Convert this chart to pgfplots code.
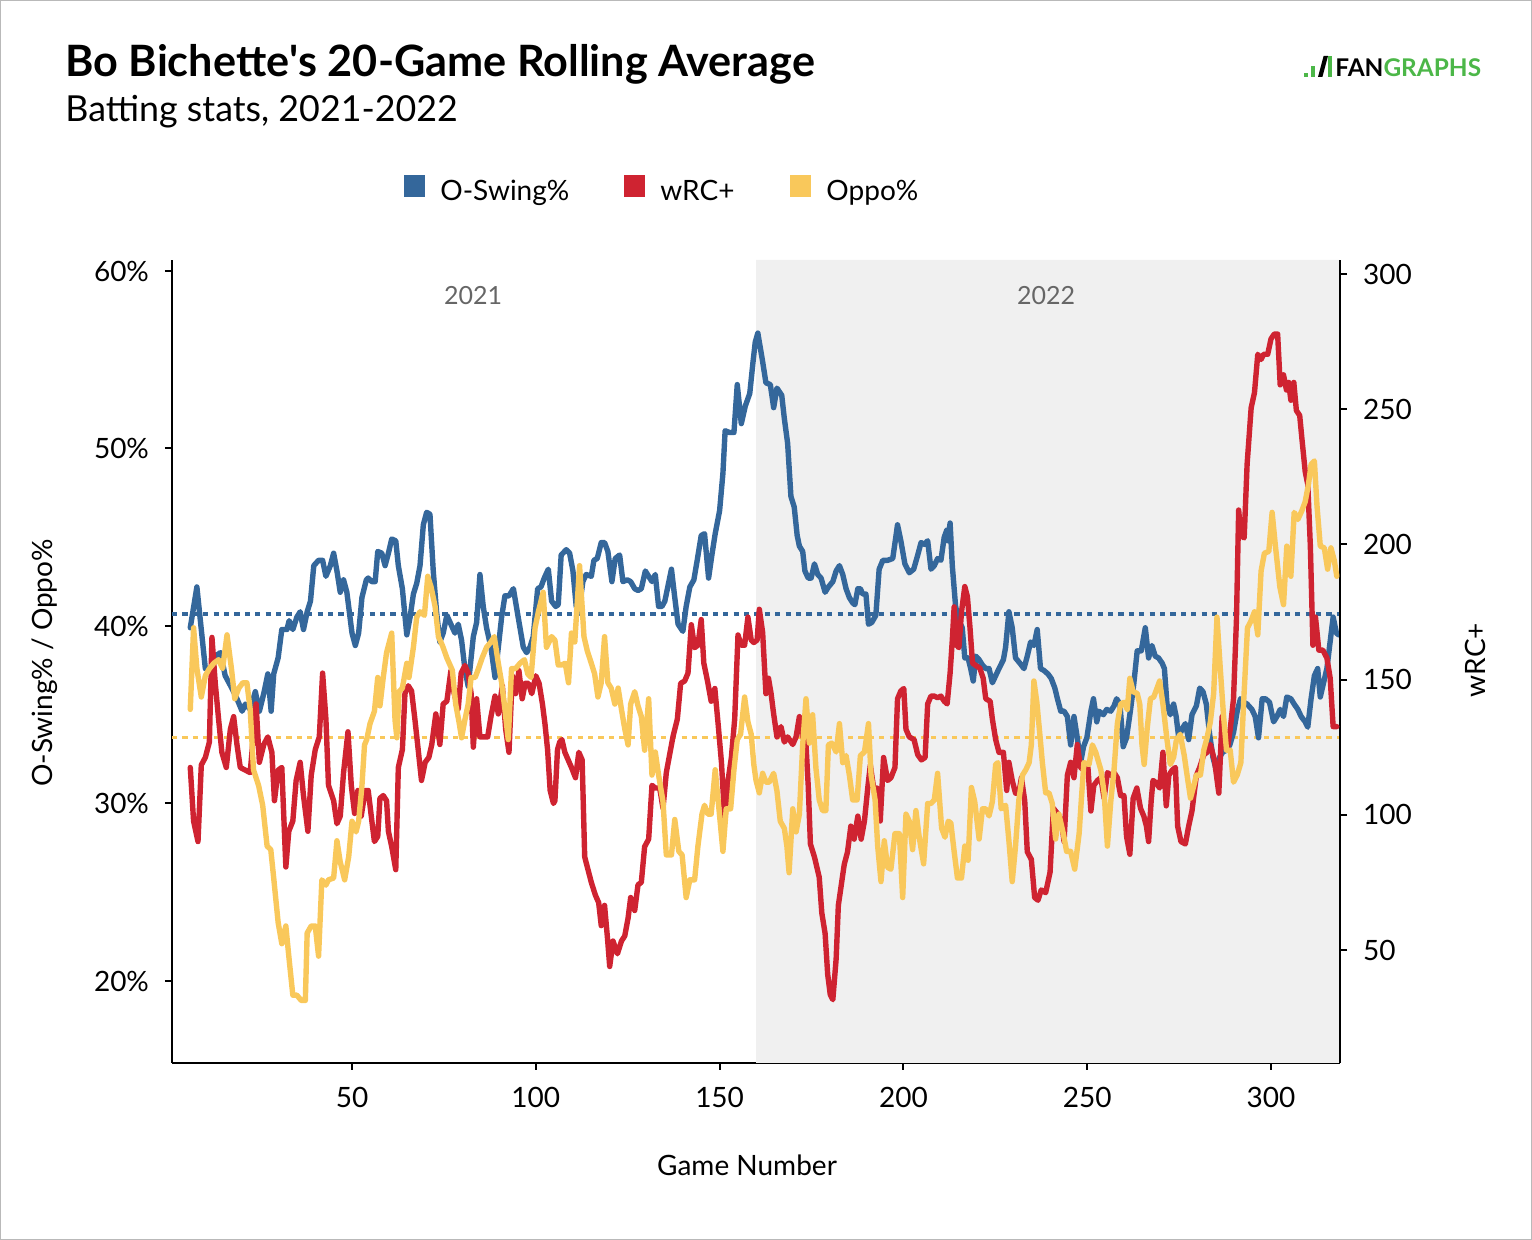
\documentclass[border=0pt]{standalone}
\usepackage{pgfplots}
\pgfplotsset{compat=1.18}
\usepackage{fontspec}
\setmainfont{Lato}
\definecolor{oblue}{HTML}{34679B}
\definecolor{wred}{HTML}{CF2331}
\definecolor{oyel}{HTML}{F9C85B}
\definecolor{shade}{HTML}{F0F0F0}
\definecolor{fgreen}{HTML}{4CB748}
\definecolor{yeargray}{HTML}{666666}
\pgfplotsset{
  base/.style={scale only axis, width=584pt, height=401.5pt,
    xmin=1.03, xmax=318.77, at={(86pt,88.5pt)}, anchor=south west,
    axis line style={-, line width=1pt, black},
    tick align=outside, major tick length=3.5pt,
    tick style={line width=1pt, black},
    ticklabel style={font=\fontsize{14}{16}\selectfont},
    minor tick num=0},
  dat/.style={line width=2.7pt, line join=round, line cap=round}
}
\begin{document}
\begin{tikzpicture}
% left axis: shading, reference lines, O-Swing%
\begin{axis}[base, ymin=15.38, ymax=60.62,
  axis x line*=bottom, axis y line*=left,
  xtick={50,100,150,200,250,300}, xticklabels={50,100,150,200,250,300},
  xticklabel style={yshift=-5pt},
  ytick={20,30,40,50,60}, yticklabels={20\%,30\%,40\%,50\%,60\%},
  yticklabel style={xshift=-4.5pt}]
\addplot[fill=shade, draw=none] coordinates {(159.9,15.38) (318.77,15.38) (318.77,60.62) (159.9,60.62) (159.9,15.38)};
\addplot[oblue, line width=1.6pt, dash pattern=on 2.6pt off 2.6pt] coordinates {(1.03,40.68) (318.77,40.68)};
\addplot[oyel, line width=1.6pt, dash pattern=on 2.6pt off 2.6pt] coordinates {(1.03,33.7) (318.77,33.7)};
\addplot[oblue, dat] coordinates {
(6,39.9)(7.8,42.2)(10.1,37.6)(11.5,37.6)(12.8,38.3)(14.2,38.5)(15.5,37.2)(17.3,36.5)(18.7,35.9)(20.1,35.2)(21,35.6)(22.3,35.3)(23.7,36.3)(24.8,35.2)(26,36.2)(27.1,37.3)(28,35.2)(28.7,37.3)(29.9,38.2)(30.9,39.8)(32.3,39.8)(32.9,40.3)(33.9,39.8)(35,40.5)(35.9,40.8)(36.8,39.8)(37.8,40.8)(38.7,41.4)(39.6,43.4)(40.9,43.7)(42,43.7)(42.9,42.8)(44.1,43.4)(45,44.1)(45.9,43.1)(46.8,41.9)(47.7,42.6)(48.6,41.9)(50,39.6)(50.9,38.9)(51.8,39.6)(52.7,41.6)(53.9,42.6)
(54.4,42.7)(55.4,42.5)(56.3,42.5)(57,44.2)(58.1,44.1)(59,43.4)(59.9,44.1)(60.8,44.9)(61.9,44.8)(62.6,43.4)(63.7,42.1)(64.9,39.5)(65.8,40.5)(66.7,41.8)(67.6,42.4)(68.5,43.4)(69.4,45.7)(70.3,46.4)(71.2,46.3)(72.1,43.1)(73,40.8)(73.9,39.1)(74.8,39.6)(75.8,40.6)(76.9,40.1)(78,39.6)(78.9,40.1)(79.8,39.2)(80.7,37.6)(81.6,36.6)(82.4,38.2)(83,39.4)(83.9,40.2)(84.8,42.9)(85.7,41.1)(86.6,39.9)(87.8,38.8)(88.9,37.1)(89.8,38.8)(90.7,40.5)(91.6,41.7)(92.7,41.7)(93.9,42.1)(95.2,40.5)(96.6,38.8)(97.5,38.5)(98.4,38.8)(99.3,39.4)(100.5,42.1)(101.4,42.2)(102.3,42.7)(103.4,43.2)(104.3,41.4)(105.4,41.1)(106.1,41.2)
(106.9,44.0)(108.3,44.3)(109.2,44.1)(110.1,43.1)(111,41.1)(111.7,40.8)(112.8,42.5)(113.7,42.9)(115.1,42.8)(115.8,43.7)(116.7,43.8)(117.8,44.7)(118.7,44.7)(119.6,44.2)(120.7,42.5)(121.6,43.8)(122.8,44.0)(123.7,42.5)(124.9,42.6)(125.8,42.5)(126.9,42.1)(127.8,42.0)(128.7,42.1)(129.8,43.1)(130.7,42.8)(131.6,42.5)(132.5,42.9)(133.4,41.1)(134.3,41.1)(135.1,41.4)(135.9,42.2)(136.9,43.2)(137.8,41.6)(138.7,40.1)(140,39.7)(140.9,41.1)(141.9,42.2)(143,42.6)(143.9,43.7)(145,45.1)(145.9,45.2)(147,42.7)(147.9,44.0)(148.8,45.2)(150,46.5)(150.9,48.6)(151.5,51.0)(152.7,50.9)(153.9,50.9)(154.8,53.6)(155.9,51.4)(157,52.4)(158.2,53.1)(159.1,54.9)(159.7,56.0)(160.4,56.5)
(161.7,54.9)(162.6,53.7)(163.8,53.6)(164.7,52.3)(165.6,53.4)(166.9,53.0)(167.6,51.7)(168.5,50.3)(169.4,47.3)(170.3,46.7)(171.1,45.1)(171.7,44.5)(172.6,44.2)(173.2,43.1)(174.1,42.7)(174.9,42.7)(175.8,43.5)(176.7,42.9)(177.6,42.7)(178.7,41.9)(179.6,42.2)(180.8,42.5)(181.7,43.1)(182.6,43.4)(183.5,42.9)(184.4,42.1)(185.3,41.6)(186.2,41.3)(186.8,41.2)(187.6,42.1)(188.3,42.1)(188.9,41.8)(189.8,41.8)(190.5,40.1)(191.4,40.2)(192.5,40.6)(193.4,43.2)(194.4,43.7)(195.7,43.7)(197.1,43.8)(198.4,45.7)(199.3,44.8)(200.4,43.5)(201.6,43.0)(202.8,43.2)(203.9,44.0)(204.8,44.7)(205.7,44.6)(206.6,44.8)(207.5,43.2)(208.4,43.4)(209.3,43.8)(210.2,43.7)(211.1,45.0)(211.8,45.4)(212.1,44.8)(212.7,45.8)
(213.3,43.4)(214.2,41.1)(215.1,40.3)(216,39.9)(216.7,38.2)(217.6,38.2)(218.3,37.6)(219,36.9)(219.7,38.3)(220.6,38.1)(221.5,37.8)(222.4,37.6)(223.3,37.6)(224.2,36.8)(225.1,37.2)(226,37.6)(227.2,38.1)(227.8,38.8)(228.7,40.8)(229.6,39.9)(230.5,38.2)(231.7,37.9)(232.8,37.6)(233.7,38.3)(234.6,39.1)(235.5,38.9)(236.4,39.8)(237.3,37.6)(238.2,37.5)(239.3,37.3)(240.2,37.05)(241.2,36.5)(241.9,35.9)(242.8,35.2)(243.7,35.2)(244.6,34.9)(245.5,33.3)(246.4,34.9)(247.3,33.7)(248.2,32.3)(249,33.2)(249.9,33.7)(251,35.2)(251.7,35.9)(252.6,34.6)(253.2,35.2)(254.4,35.0)(255.3,35.3)(256.4,35.2)(257.3,35.5)(258,35.9)(258.9,35.6)(259.8,33.2)(260.7,33.7)(261.8,35.3)(262.7,36.8)(263.6,38.6)(264.7,38.6)
(265.8,39.9)(266.7,38.2)(267.6,38.9)(268.5,38.3)(269.4,38.2)(270.4,37.9)(271,37.6)(271.7,35.6)(272.6,35.0)(273.5,35.6)(274.2,34.9)(274.9,33.7)(275.8,34.2)(276.7,34.5)(277.6,33.6)(278.5,35.0)(279.7,35.5)(280.6,36.5)(281.5,36.3)(282.4,35.6)(283.3,33.9)(284.2,32.6)(285.1,31.9)(286,32.6)(286.9,32.9)(287.9,33.0)(288.8,33.3)(289.8,34.0)(290.8,35.2)(291.7,35.9)(292.6,35.7)(293.5,35.6)(294.8,35.3)(295.7,34.9)(296.6,33.7)(297.6,35.9)(298.5,35.9)(299.6,35.7)(300.7,34.6)(301.6,34.9)(302.5,35.3)(303.4,34.9)(304.3,36.0)(305.4,35.9)(306.3,35.6)(307.3,35.3)(308.2,34.9)(309.3,34.6)(310,34.3)(310.9,35.9)(311.8,37.2)(312.7,37.6)(313.4,36.0)(314.3,36.8)(315.2,37.6)(315.9,38.8)(316.9,40.5)(317.8,39.6)(318.4,39.5)
};
\end{axis}
% right axis: wRC+
\begin{axis}[base, ymin=8.21, ymax=305.18,
  axis x line=none, axis y line*=right,
  ytick={50,100,150,200,250,300}, yticklabels={50,100,150,200,250,300},
  yticklabel style={xshift=4.5pt}]
\addplot[wred, dat] coordinates {
(6,117.5)(6.9,97.7)(8.1,90.1)(9,118.4)(10.1,121.2)(11.2,126.9)(11.9,165.6)(12.8,148.6)(13.7,135.4)(14.6,123.1)(15.8,117.5)(16.9,131.6)(17.8,136.3)(18.7,126.0)(19.6,117.5)(21,116.5)(22.3,115.6)(23.2,129.7)(23.9,141.0)(24.8,119.4)(26,126.0)(27.1,128.8)(28.2,123.1)(28.9,105.2)(29.9,116.5)(30.9,117.5)(32,80.7)(32.8,93.9)(33.9,97.7)(34.8,112.7)(35.9,119.4)(36.8,107.1)(38,93.9)(38.9,114.6)(40,124.1)(41.1,128.8)(42,152.4)(42.9,135.4)(43.6,110.9)(45,105.2)(45.9,96.7)(46.8,99.5)(47.7,115.6)(48.9,130.7)(49.8,110.9)(50.7,100.5)(51.6,109.0)(52.5,99.5)(53.6,109.0)
(54.4,109.0)(55.4,97.7)(56.1,90.1)(57,92.0)(57.6,106.1)(58.5,107.1)(59.4,105.2)(59.9,93.9)(60.8,88.2)(61.9,79.7)(62.6,117.5)(63.7,124.1)(64.4,144.8)(65.3,147.7)(66.2,145.8)(67.1,135.4)(68,124.1)(68.9,112.7)(69.9,119.4)(70.9,121.2)(71.7,126.0)(72.8,137.3)(73.9,126.0)(74.8,141.0)(75.8,142.0)(76.9,153.3)(77.8,144.8)(78.9,139.2)(79.7,152.4)(80.7,155.2)(81.6,152.4)(82.4,144.8)(83,125.0)(83.9,142.9)(84.8,128.8)(85.7,128.8)(86.9,128.8)(87.8,136.3)(88.9,143.9)(89.8,137.3)(90.9,147.7)(91.8,131.6)(92.7,123.1)(93.6,151.4)(94.5,144.8)(95.4,153.3)(96.3,142.9)(97.1,148.6)(98,148.6)(98.9,144.8)(100,151.4)(100.9,148.6)(101.8,141.0)(102.5,133.5)(103.2,124.1)(103.9,109.0)(104.8,104.2)(105.2,105.2)(105.9,124.1)
(106.5,126.9)(107.1,127.8)(107.9,123.1)(108.8,120.3)(109.7,117.5)(110.8,113.7)(111.7,123.1)(112.6,120.3)(113.3,84.4)(114.2,79.7)(115.1,75.0)(116.2,70.3)(117.1,67.5)(117.8,59.0)(118.7,66.5)(119.5,54.3)(120.1,43.9)(121,53.3)(122.2,48.6)(123.3,53.3)(124.2,55.2)(125.1,61.8)(125.8,69.4)(126.9,64.6)(127.8,74.1)(128.7,75.0)(129.6,88.2)(130.7,91.0)(131.6,110.9)(132.5,109.9)(133.7,109.9)(134.6,102.4)(135.5,115.6)(136.4,122.2)(137.3,128.8)(138.5,135.4)(139.4,148.6)(140.5,149.5)(141.4,152.4)(142.3,170.3)(143.2,161.8)(144.1,162.7)(145,172.2)(145.7,156.1)(146.7,149.5)(147.7,142.0)(148.7,146.7)(149.6,133.5)(150.5,119.4)(151.4,97.7)(152.3,112.7)(153.2,121.2)(154.1,135.4)(155,166.5)(155.9,162.7)(156.8,162.7)(157.7,173.1)(158.6,164.6)
(159.3,163.7)(160.2,164.6)(160.8,176.0)(161.7,167.5)(162.6,144.8)(163.3,150.5)(164,144.8)(164.7,137.3)(165.6,128.8)(166.7,132.6)(167.6,126.9)(168.5,128.8)(169.9,126.0)(170.8,128.8)(171.7,136.3)(172.6,128.8)(173.5,126.0)(174.1,110.9)(174.7,89.2)(175.8,84.4)(177.1,76.9)(177.8,63.7)(178.7,56.1)(179.4,41.0)(180.1,33.5)(180.8,31.6)(181.7,46.7)(182.3,66.5)(183.2,75.0)(183.9,81.6)(184.8,86.3)(185.7,95.8)(186.6,91.0)(187.6,99.5)(188.5,91.0)(189.4,97.7)(190.3,109.9)(191,118.4)(191.9,109.9)(192.8,109.9)(193.7,97.7)(194.6,121.2)(195.7,112.7)(196.6,113.7)(197.7,117.5)(198.4,142.9)(199.3,145.8)(200.1,146.7)(200.7,131.6)(201.6,128.8)(202.9,127.8)(203.9,122.2)(204.9,120.3)(205.9,121.2)(206.6,141.0)(207.5,143.9)(208.4,143.9)(209.3,143.3)(210.2,143.9)(211.1,142.0)
(211.9,141.0)(212.7,152.4)(213.3,164.6)(213.8,176.9)(214.5,162.7)(215.1,161.8)(215.8,175.0)(216.7,184.4)(217.4,180.7)(218.1,169.4)(218.8,156.1)(219.7,155.2)(220.8,154.2)(221.7,150.5)(222.4,142.9)(223.6,142.0)(224.2,135.4)(225.1,127.8)(226,123.1)(227.2,123.1)(228.1,109.0)(228.7,119.4)(229.6,112.7)(230.5,108.0)(231.4,108.0)(232.1,113.7)(233,105.2)(233.7,86.3)(234.8,83.5)(235.7,69.4)(236.6,68.4)(237.5,72.2)(238.7,71.2)(239.9,78.8)(240.8,102.4)(241.9,100.5)(243,97.7)(243.7,90.1)(244.6,114.6)(245.5,119.4)(246.4,113.7)(247.3,126.0)(248.2,117.5)(249.1,116.5)(250.2,117.5)(251,101.4)(251.8,110.9)(252.8,112.7)(253.7,113.7)(254.6,106.1)(255.5,115.6)(256.4,114.6)(257.3,115.6)(258.2,113.7)(259.1,107.1)(260,107.1)(260.7,92.0)(261.6,85.4)(262.5,106.1)(263.5,109.9)(264.5,102.4)(265.4,99.5)
(266.1,95.8)(266.7,90.1)(267.4,105.2)(267.9,112.7)(268.8,111.8)(269.7,109.9)(270.6,123.1)(271.5,103.3)(272.2,114.6)(273.1,116.5)(274,117.5)(274.6,95.8)(275.5,90.1)(276.7,89.2)(277.6,95.8)(278.5,101.4)(279.7,114.6)(280.6,117.5)(281.7,122.2)(282.6,123.1)(283.5,126.0)(284.6,120.3)(285.8,108.0)(286.7,136.3)(287.3,125.0)(288.2,125.0)(288.9,131.6)(289.8,142.9)(290.6,172.2)(291.2,212.7)(291.8,203.3)(292.7,202.4)(293.5,229.7)(294.6,250.5)(295.5,256.1)(296.4,270.3)(297.3,268.4)(298,270.3)(299.1,270.3)(300,276.0)(300.9,277.8)(301.8,277.8)(302.5,259.0)(303.4,262.7)(304.2,257.1)(304.8,259.9)(305.4,253.3)(306.2,259.9)(306.9,249.5)(307.8,247.7)(308.4,239.2)(309.3,226.9)(310,222.2)(310.7,199.5)(311.4,162.7)(312.1,173.1)(313,160.9)(314.1,160.9)(315.2,158.0)(316.1,150.5)(316.9,132.6)(317.9,132.6)
};
\end{axis}
% Oppo% on left scale, drawn on top
\begin{axis}[base, ymin=15.38, ymax=60.62, hide axis]
\addplot[oyel, dat] coordinates {
(6,35.3)(6.9,39.9)(7.8,37.6)(9,36.0)(10.1,37.2)(11.2,37.6)(12.4,37.9)(13.7,38.1)(14.8,37.6)(16,39.5)(17.2,37.6)(18.1,35.9)(19.2,36.5)(20.3,36.8)(21.4,36.8)(22.3,35.3)(23.2,31.9)(24.6,31.0)(25.7,29.9)(26.9,27.6)(27.9,27.4)(28.7,25.8)(29.9,23.3)(30.9,22.1)(32,23.1)(32.9,21.2)(33.9,19.2)(35,19.2)(36.2,18.9)(37.3,18.9)(37.8,22.7)(38.9,23.1)(40,23.1)(40.9,21.4)(41.8,25.7)(42.9,25.4)(43.6,25.7)(45,25.8)(45.9,27.9)(46.8,26.7)(48,25.7)(49.1,27.0)(50,29.0)(51.1,28.4)(51.8,29.0)(52.7,31.0)(53.4,33.3)
(54,33.6)(54.9,34.5)(56.1,35.2)(57,37.1)(57.6,35.5)(58.5,37.1)(59.4,38.5)(60.8,39.6)(61.7,34.7)(62.2,33.7)(62.8,36.3)(63.7,36.5)(64.9,37.9)(65.5,37.1)(66.7,38.8)(67.6,40.5)(68.5,40.8)(69.7,40.6)(70.6,42.8)(71.5,42.2)(72.6,41.1)(73.5,39.4)(74.6,38.9)(75.8,38.2)(77.3,37.5)(78.2,35.6)(79.1,34.6)(79.8,33.7)(80.7,34.7)(81.6,35.6)(82.4,37.1)(83.5,37.1)(84.4,37.6)(85.4,38.2)(86.6,38.8)(87.8,39.1)(88.7,39.4)(89.8,37.9)(90.7,36.8)(91.6,35.3)(92.5,33.6)(93.4,37.6)(94.5,37.6)(95.7,37.9)(96.9,38.1)(97.8,37.3)(98.7,37.1)(99.8,39.9)(100.7,40.8)(102,41.9)(102.9,38.8)(104.3,39.4)(105.2,39.2)(106.1,37.8)
(106.9,37.8)(108,37.9)(108.9,36.8)(109.7,39.6)(110.6,39.1)(111.9,43.4)(112.6,41.1)(113.1,39.4)(114,38.6)(115.1,37.9)(116,37.3)(116.9,36.0)(117.8,36.8)(118.7,39.4)(119.6,36.8)(120.5,36.5)(121.5,35.6)(122.4,36.5)(123.3,35.3)(124.2,34.2)(125.1,33.3)(125.8,35.6)(126.9,36.3)(127.8,35.5)(128.7,34.9)(129.6,33.0)(130.7,35.9)(131.6,31.6)(132.5,32.9)(133.4,31.6)(134.6,30.1)(135.5,27.1)(136.9,27.1)(137.8,29.1)(138.9,27.3)(139.8,27.1)(140.9,24.7)(141.9,25.7)(143.2,25.7)(144.1,27.6)(145.2,29.4)(145.9,29.9)(146.8,29.4)(147.7,29.4)(148.8,31.9)(150,29.3)(150.9,27.3)(151.8,29.7)(153,29.7)(153.9,31.9)(154.8,33.6)(155.7,33.9)(156.8,36.0)(157.7,34.6)(158.6,33.9)
(159.3,32.2)(159.9,31.3)(160.8,30.6)(161.7,31.7)(162.6,31.2)(163.5,31.2)(164.7,31.7)(165.6,30.7)(166.5,29.0)(167.6,28.6)(168.3,27.6)(168.9,26.1)(169.9,29.7)(170.8,28.4)(171.7,29.4)(172.6,33.3)(173.5,35.9)(174.4,33.4)(175.3,35.0)(176.2,32.0)(177.1,30.2)(178,29.6)(178.9,29.6)(179.6,33.3)(180.5,33.4)(181.7,32.9)(182.6,34.5)(183.5,32.3)(184.4,32.7)(185.3,31.6)(186.2,30.2)(187.4,30.2)(188.3,32.7)(189.4,32.9)(190.5,34.5)(191.2,31.6)(192.3,30.2)(193,27.6)(193.9,25.6)(194.8,27.9)(195.7,26.4)(196.6,26.3)(197.7,28.3)(198.9,28.3)(199.8,24.7)(200.7,29.4)(201.6,29.0)(202.5,27.4)(203.4,29.6)(204.3,28.1)(205.5,26.6)(206.6,30.0)(207.5,30.0)(208.4,30.2)(209.3,31.7)(210.4,28.6)(211.3,28.1)(212.2,29.0)(212.9,28.9)
(213.8,27.3)(214.7,25.8)(215.8,25.8)(216.7,27.6)(217.6,26.8)(218.5,30.9)(219.4,30.1)(220.6,28.0)(221.5,29.7)(222.4,29.7)(223.3,29.3)(224.2,30.1)(225.1,32.2)(225.7,32.3)(226.6,29.7)(227.8,29.9)(228.7,27.9)(229.6,25.6)(230.5,27.6)(231.4,30.2)(232.4,31.6)(233.3,31.9)(234.2,32.3)(234.8,33.3)(235.5,36.9)(236.3,35.7)(237.2,33.7)(237.8,32.3)(238.7,30.6)(239.6,30.6)(240.5,30.0)(241.4,28.0)(242.3,29.4)(243.5,28.3)(244.4,27.3)(245.5,27.3)(246.6,26.3)(247.8,28.3)(248.4,30.2)(249.1,32.3)(250.5,32.2)(251.4,33.3)(252.3,32.9)(253.7,31.9)(254.6,30.6)(255.5,27.6)(256.4,30.1)(257.3,31.9)(258.2,34.5)(259.1,35.6)(260,35.7)(260.9,35.3)(261.6,37.05)(262.5,36.3)(263.6,36.2)
(264.3,35.6)(264.9,33.3)(265.5,32.2)(266.3,34.2)(267.2,35.9)(268.1,36.0)(269,36.5)(269.7,36.9)(270.6,35.6)(271.7,33.6)(272.6,32.2)(273.5,32.6)(274.2,33.5)(275.3,33.9)(276.4,32.7)(277.3,31.4)(278.1,30.3)(279,31.0)(279.7,31.6)(280.8,31.6)(281.7,33.0)(282.6,33.7)(283.5,34.6)(284.4,36.2)(285.3,40.5)(286.2,37.6)(287.1,34.9)(287.9,33.0)(288.9,33.0)(289.8,31.2)(290.8,31.6)(291.8,32.3)(292.6,35.9)(293.6,39.9)(294.6,40.3)(295.5,40.8)(296.4,39.5)(297.3,43.1)(298.2,44.1)(299.4,44.2)(300.3,46.4)(301.2,44.5)(302.4,42.2)(303.4,41.2)(304.3,44.5)(305.4,42.8)(306.3,46.4)(307.3,46.0)(308.4,46.5)(309.3,47.0)(310.2,48.0)(310.9,49.1)(311.8,49.3)(312.5,46.8)(313.4,44.5)(314.5,44.4)(315.4,43.2)(316.3,44.4)(317.2,43.7)(317.9,42.8)
};
\end{axis}
% year labels
\node[text=yeargray, font=\fontsize{12.5}{15}\selectfont] at (236.5pt,472pt) {2021};
\node[text=yeargray, font=\fontsize{12.5}{15}\selectfont] at (523pt,472pt) {2022};
% titles
\node[anchor=base west, inner sep=0pt, font=\fontsize{21.6}{26}\selectfont\bfseries] at (32.5pt,581.5pt) {Bo Bichette\textquotesingle s 20-Game Rolling Average};
\node[anchor=base west, inner sep=0pt, font=\fontsize{17.9}{21}\selectfont] at (32.5pt,559pt) {Batting stats, 2021-2022};
% legend
\fill[oblue] (202pt,521.5pt) rectangle (212.5pt,532.5pt);
\node[anchor=base west, inner sep=0pt, font=\fontsize{14}{16}\selectfont] at (220pt,519.5pt) {O-Swing\%};
\fill[wred] (312pt,521.5pt) rectangle (322.5pt,532.5pt);
\node[anchor=base west, inner sep=0pt, font=\fontsize{14}{16}\selectfont] at (330pt,519.5pt) {wRC+};
\fill[oyel] (395pt,521.5pt) rectangle (405.5pt,532.5pt);
\node[anchor=base west, inner sep=0pt, font=\fontsize{14}{16}\selectfont] at (413pt,519.5pt) {Oppo\%};
% axis titles
\node[rotate=90, font=\fontsize{14}{16}\selectfont] at (22.5pt,288.5pt) {O-Swing\% / Oppo\%};
\node[rotate=90, font=\fontsize{14}{16}\selectfont] at (737.5pt,290pt) {wRC+};
\node[font=\fontsize{14}{16}\selectfont] at (373.5pt,37.5pt) {Game Number};
% logo
\fill[fgreen] (652pt,581.5pt) rectangle (654pt,583.5pt);
\fill[fgreen] (655.5pt,581.5pt) rectangle (657.5pt,587pt);
\fill[black] (659pt,581.5pt) -- (661.2pt,581.5pt) -- (664pt,592pt) -- (661.8pt,592pt) -- cycle;
\fill[fgreen] (663.8pt,581.5pt) rectangle (665.8pt,592pt);
\node[anchor=base west, inner sep=0pt, font=\fontsize{12.2}{15}\selectfont\bfseries] at (667.5pt,581.5pt) {FAN\textcolor{fgreen}{GRAPHS}};
% frame
\pgfresetboundingbox
\useasboundingbox (0pt,0pt) rectangle (766pt,620pt);
\draw[gray!55, line width=0.6pt] (0.3pt,0.3pt) rectangle (765.7pt,619.7pt);
\end{tikzpicture}
\end{document}
